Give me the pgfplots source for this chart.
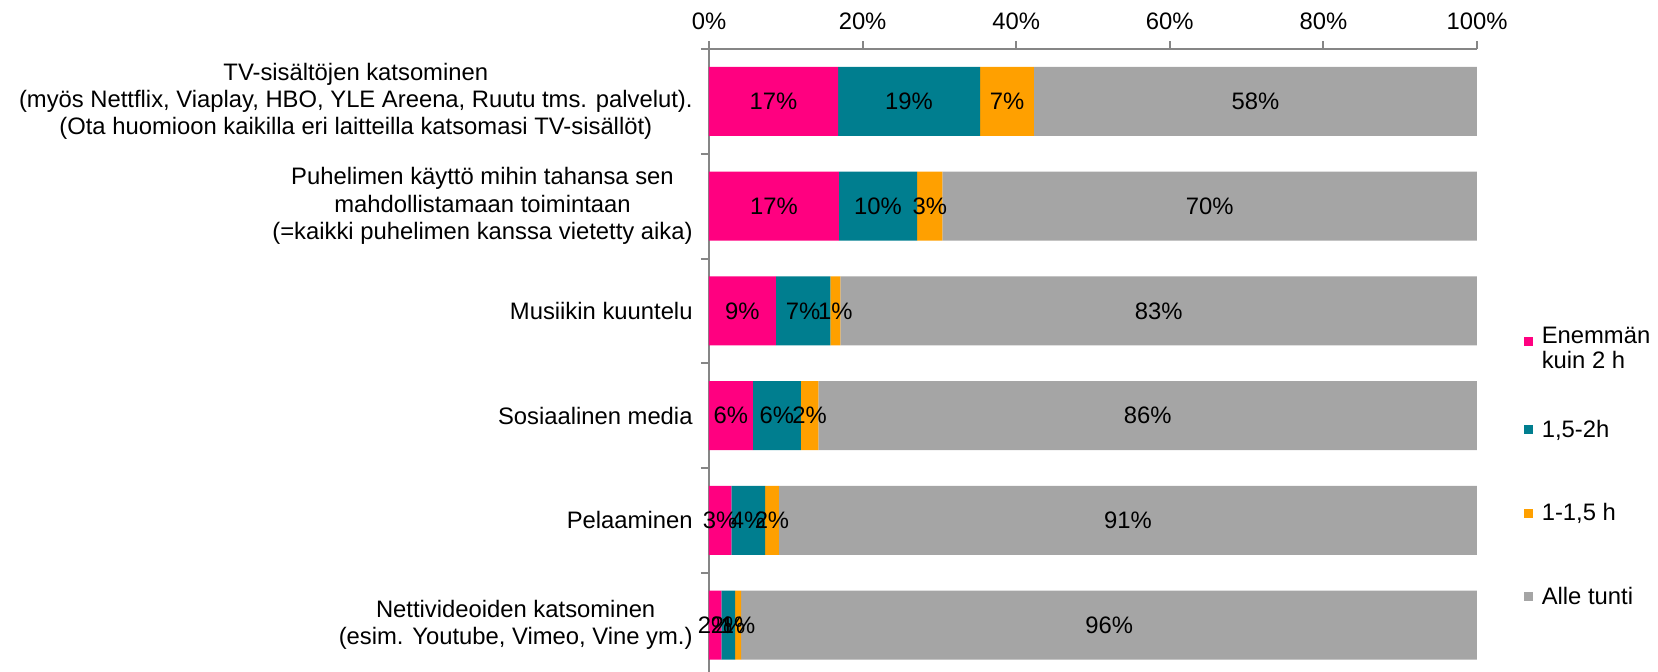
\documentclass[border=0pt]{standalone}
\usepackage{pgfplots}
\pgfplotsset{compat=1.18}
\usepackage{pgfplotstable}
\usepackage{fontspec}
\setmainfont{Liberation Sans}
\definecolor{cpink}{RGB}{255,0,128}
\definecolor{cteal}{RGB}{0,126,143}
\definecolor{corange}{RGB}{255,160,0}
\definecolor{cgrey}{RGB}{165,165,165}
\definecolor{axgrey}{RGB}{134,134,134}

\pgfplotstableread{
cat v1 l1 v2 l2 v3 l3 v4 l4
0 16.8 17 18.5 19 7.0 7 57.7 58
1 16.9 17 10.2 10 3.3 3 69.6 70
2 8.7 9 7.1 7 1.3 1 82.9 83
3 5.7 6 6.25 6 2.3 2 85.75 86
4 2.9 3 4.4 4 1.8 2 90.9 91
5 1.6 2 1.8 2 0.8 1 95.8 96
}\datatable

\begin{document}
\begin{tikzpicture}
\useasboundingbox (-297.78pt,20.58pt) rectangle (398.58pt,-261.24pt);
\begin{axis}[
  at={(0pt,0pt)}, anchor=north west,
  scale only axis, width=322.56pt, height=263.97pt,
  xbar stacked, bar width=29pt,
  xmin=0, xmax=100, ymin=-0.5, ymax=5.5, y dir=reverse,
  axis x line*=top, axis y line*=left,
  axis line style={draw=axgrey, line width=0.84pt},
  tick style={draw=axgrey, line width=0.84pt},
  tick align=outside, major tick length=3.36pt,
  xtick={0,20,...,100},
  xticklabel={\pgfmathprintnumber[assume math mode=true]{\tick}\%},
  xticklabel style={yshift=1.3pt},
  ytick={-0.5,0.5,...,5.5},
  yticklabels={{TV-sisältöjen katsominen\\[-0.5pt](myös Nettflix, Viaplay, HBO, YLE Areena, Ruutu tms. palvelut).\\[-0.5pt](Ota huomioon kaikilla eri laitteilla katsomasi TV-sisällöt)},
    {Puhelimen käyttö mihin tahansa sen\\[-0.5pt]mahdollistamaan toimintaan\\[-0.5pt](=kaikki puhelimen kanssa vietetty aika)},
    {Musiikin kuuntelu},{Sosiaalinen media},{Pelaaminen},
    {Nettivideoiden katsominen\\[-0.5pt](esim. Youtube, Vimeo, Vine ym.)},{}},
  yticklabel style={align=center, yshift=-22pt},
  point meta=explicit symbolic,
  nodes near coords={\pgfplotspointmeta\%},
  every node near coord/.append style={anchor=center, font=\normalsize, text=black},
  legend cell align=left,
  legend style={draw=none, fill=none, inner sep=0pt,
    at={(axis description cs:1.0605,0.5675)}, anchor=north west,
    row sep=22.3pt},
  legend image code/.code={\path[#1, draw=none] (0pt,-1.6pt) rectangle (3.8pt,2.2pt);
    \path[fill=none, draw=none] (0pt,0pt) -- (5.5pt,0pt);},
  clip=false,
]
\addplot+[fill=cpink, draw=none,
  legend image code/.code={\path[##1, draw=none] (0pt,-3.8pt) rectangle (3.8pt,0pt);
    \path[fill=none, draw=none] (0pt,0pt) -- (5.5pt,0pt) -- (0pt,-10.6pt);}]
  table[x=v1, y=cat, meta=l1] {\datatable};
\addplot+[fill=cteal, draw=none] table[x=v2, y=cat, meta=l2] {\datatable};
\addplot+[fill=corange, draw=none] table[x=v3, y=cat, meta=l3] {\datatable};
\addplot+[fill=cgrey, draw=none] table[x=v4, y=cat, meta=l4] {\datatable};
\legend{{\raisebox{0pt}[7.5pt][4.6pt]{\begin{tabular}[t]{@{}l@{}}Enemmän\\[-1.5pt]kuin 2 h\end{tabular}}},{1,5-2h},{1-1,5 h},{Alle tunti}}
\end{axis}
\end{tikzpicture}
\end{document}
